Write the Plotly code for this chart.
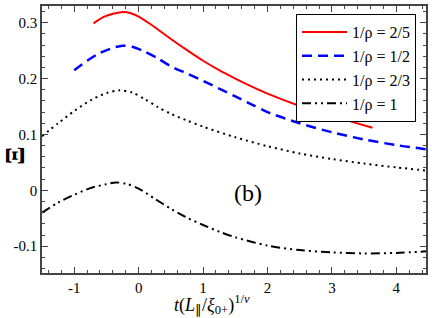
import plotly.graph_objects as go

# ---- data ----
red_x = [-0.7, -0.55, -0.4, -0.27, -0.12, 0.0, 0.15, 0.3, 0.5, 0.75, 1.0, 1.25, 1.5, 1.75, 2.0, 2.5, 3.0, 3.3, 3.63]
red_y = [0.299, 0.310, 0.316, 0.319, 0.317, 0.311, 0.300, 0.288, 0.271, 0.251, 0.232, 0.215, 0.200, 0.186, 0.173, 0.151, 0.133, 0.123, 0.112]

blue_x = [-1.0, -0.8, -0.6, -0.4, -0.25, -0.1, 0.1, 0.3, 0.5, 0.75, 1.0, 1.25, 1.5, 1.75, 2.0, 2.5, 3.0, 3.5, 4.0, 4.5]
blue_y = [0.215, 0.232, 0.246, 0.255, 0.259, 0.257, 0.248, 0.236, 0.222, 0.209, 0.196, 0.182, 0.168, 0.154, 0.140, 0.120, 0.104, 0.091, 0.081, 0.073]

dot_x = [-1.5, -1.25, -1.0, -0.75, -0.5, -0.3, -0.1, 0.1, 0.3, 0.5, 0.75, 1.0, 1.5, 2.0, 2.5, 3.0, 3.5, 4.0, 4.5]
dot_y = [0.097, 0.120, 0.142, 0.161, 0.174, 0.179, 0.175, 0.163, 0.149, 0.137, 0.125, 0.114, 0.095, 0.079, 0.066, 0.056, 0.048, 0.041, 0.035]

dd_x = [-1.5, -1.25, -1.0, -0.75, -0.5, -0.35, -0.2, 0.0, 0.25, 0.5, 0.75, 1.0, 1.25, 1.5, 2.0, 2.5, 3.0, 3.5, 4.0, 4.5]
dd_y = [-0.040, -0.022, -0.008, 0.004, 0.011, 0.014, 0.012, 0.003, -0.015, -0.033, -0.049, -0.062, -0.074, -0.084, -0.099, -0.107, -0.111, -0.113, -0.112, -0.109]

series_names = ["1/ρ = 2/5", "1/ρ = 1/2", "1/ρ = 2/3", "1/ρ = 1"]

x_tickvals = [-1, 0, 1, 2, 3, 4]
x_ticktext = ["-1", "0", "1", "2", "3", "4"]
y_tickvals = [-0.1, 0, 0.1, 0.2, 0.3]
y_ticktext = ["-0.1", "0", "0.1", "0.2", "0.3"]

SERIF = "Liberation Serif, Times New Roman, serif"

fig = go.Figure()
fig.add_trace(go.Scatter(x=red_x, y=red_y, mode="lines", name=series_names[0],
                         line=dict(color="#ff0000", width=2, shape="spline", smoothing=0.8)))
fig.add_trace(go.Scatter(x=blue_x, y=blue_y, mode="lines", name=series_names[1],
                         line=dict(color="#0000ff", width=2.5, dash="10px,6px", shape="spline", smoothing=0.8)))
fig.add_trace(go.Scatter(x=dot_x, y=dot_y, mode="lines", name=series_names[2],
                         line=dict(color="#000000", width=2, dash="2px,4px", shape="spline", smoothing=0.8)))
fig.add_trace(go.Scatter(x=dd_x, y=dd_y, mode="lines", name=series_names[3],
                         line=dict(color="#000000", width=2, dash="9px,4px,2px,4px,2px,4px", shape="spline", smoothing=0.8)))

axis_common = dict(
    showgrid=False, zeroline=False, showline=True, linecolor="#444", linewidth=1.5,
    mirror="allticks", ticks="inside", ticklen=6, tickwidth=1, tickcolor="#444",
    tickfont=dict(family=SERIF, size=15, color="black"),
)

fig.update_xaxes(range=[-1.5, 4.46], tickmode="array", tickvals=x_tickvals, ticktext=x_ticktext,
                 minor=dict(tick0=0, dtick=0.2, ticks="inside", ticklen=3, tickcolor="#444"),
                 **axis_common)
fig.update_yaxes(range=[-0.148, 0.33], tickmode="array", tickvals=y_tickvals, ticktext=y_ticktext,
                 minor=dict(tick0=0, dtick=0.02, ticks="inside", ticklen=3, tickcolor="#444"),
                 **axis_common)

fig.add_annotation(x=1.7, y=-0.004, xref="x", yref="y", text="(b)", showarrow=False,
                   font=dict(family=SERIF, size=24, color="black"))
fig.add_annotation(x=-0.072, y=0.44, xref="paper", yref="paper", xanchor="center", yanchor="middle",
                   text="<b>Ξ</b>", showarrow=False,
                   textangle=-90, font=dict(family=SERIF, size=27, color="black"))
fig.add_annotation(x=0.444, y=-0.118, xref="paper", yref="paper", xanchor="center", yanchor="middle",
                   text="<i>t</i>(<i>L</i><sub>∥</sub>/<i>ξ</i><sub>0+</sub>)<sup>1/<i>ν</i></sup>",
                   showarrow=False, font=dict(family=SERIF, size=18, color="black"))

fig.update_layout(
    width=432, height=318,
    margin=dict(l=42, r=5, t=4, b=45),
    paper_bgcolor="white", plot_bgcolor="white",
    font=dict(family=SERIF, size=15, color="black"),
    showlegend=True,
    legend=dict(x=0.974, y=0.97, xanchor="right", yanchor="top",
                bordercolor="black", borderwidth=1, bgcolor="white",
                font=dict(family=SERIF, size=16, color="black"),
                tracegroupgap=0, itemwidth=45),
)

fig.write_html("out.html", config={"displayModeBar": False},
               post_script="document.body.style.margin='0';")
